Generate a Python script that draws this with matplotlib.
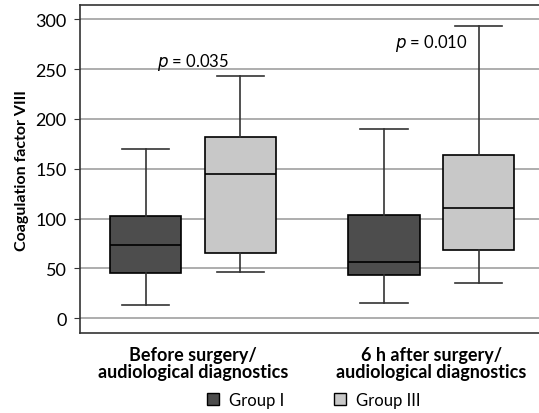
import matplotlib.pyplot as plt
from matplotlib.patches import Patch

plt.rcParams['font.family'] = ['Lato', 'DejaVu Sans']

periods = ["Before surgery/\naudiological diagnostics", "6 h after surgery/\naudiological diagnostics"]
groups = ["Group I", "Group III"]
colors = ["#4d4d4d", "#c8c8c8"]

# whisker low, q1, median, q3, whisker high
group1 = [[13, 45, 73, 103, 170], [15, 43, 56, 104, 190]]
group3 = [[46, 65, 145, 182, 243], [35, 68, 111, 164, 293]]
p_values = ["0.035", "0.010"]
p_heights = [258, 277]

fig = plt.figure(figsize=(5.39, 4.14), dpi=100)
ax = fig.add_axes([0.1484, 0.1932, 0.855, 0.7911])

offset = 0.199
for i, (g1, g3) in enumerate(zip(group1, group3)):
    for vals, dx, col in [(g1, -offset, colors[0]), (g3, offset, colors[1])]:
        stats = [dict(whislo=vals[0], q1=vals[1], med=vals[2], q3=vals[3], whishi=vals[4], fliers=[])]
        ax.bxp(stats, positions=[i + 1 + dx], widths=0.30, patch_artist=True,
               showfliers=False, capwidths=0.20,
               boxprops=dict(facecolor=col, edgecolor="black", linewidth=1.2),
               medianprops=dict(color="black", linewidth=1.2),
               whiskerprops=dict(color="#333333", linewidth=1.2),
               capprops=dict(color="#333333", linewidth=1.2),
               zorder=3)
    ax.text(i + 1, p_heights[i], r"$\it{p}$ = " + p_values[i], ha="center", va="center", fontsize=12)

ax.set_xlim(0.526, 2.46)
ax.set_ylim(-15, 314)
ax.set_yticks(range(0, 301, 50))
ax.set_xticks([1, 2])
ax.set_xticklabels(periods, fontweight="bold", fontsize=13, linespacing=1.0)
ax.tick_params(axis="x", length=0, pad=9)
ax.tick_params(axis="y", length=4, labelsize=13, color="#333333", pad=5.5)
ax.grid(axis="y", color="#a0a0a0", linewidth=1.2, zorder=0)
ax.set_axisbelow(True)
for s in ax.spines.values():
    s.set_color("#333333")
    s.set_linewidth(1.2)

ax.set_ylabel("Coagulation factor VIII", fontweight="bold", fontsize=11.5)
ax.yaxis.set_label_coords(-0.110, 0.5)

handles = [Patch(facecolor=c, edgecolor="black", linewidth=1) for c in colors]
fig.legend(handles, groups, loc="center left", bbox_to_anchor=(0.372, 0.032), ncol=2, frameon=False,
           borderaxespad=0, borderpad=0.4,
           fontsize=12, handlelength=0.7, handleheight=0.7, handletextpad=0.6, columnspacing=3.0)

fig.savefig("out.png", dpi=100)
